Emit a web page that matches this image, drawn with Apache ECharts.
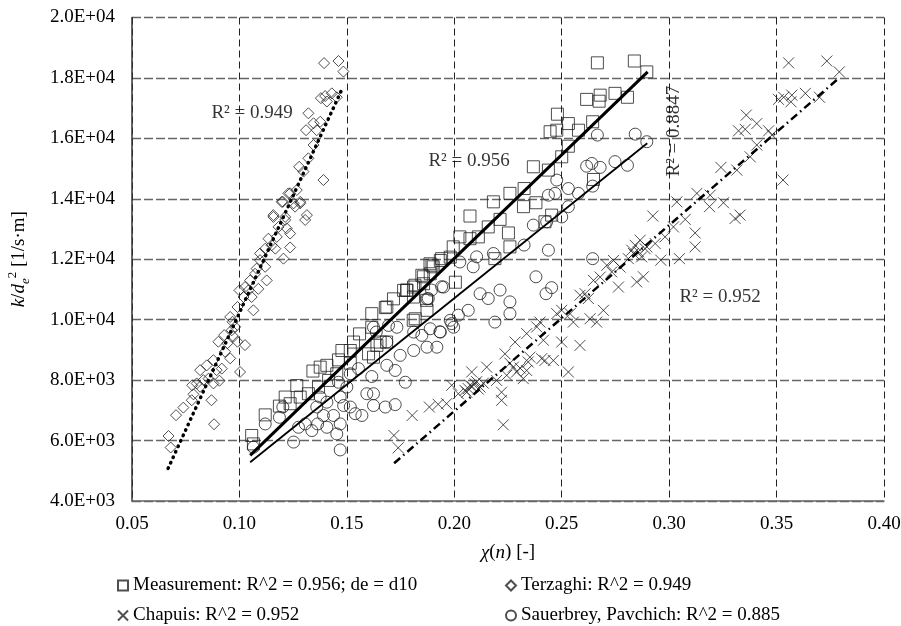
<!DOCTYPE html>
<html>
<head>
<meta charset="utf-8">
<script src="https://cdn.jsdelivr.net/npm/echarts@6/dist/echarts.min.js"></script>
<style>
  html, body { margin: 0; padding: 0; background: #fff; }
  #chart { width: 901px; height: 626px; }
</style>
</head>
<body>
<div id="chart"></div>
<script>
// values: [chi(n), k/de^2]
const measurement = [
  [0.1057,6168],[0.1065,5890],[0.112,6850],[0.1186,7140],[0.1236,7220],[0.1267,7820],[0.1283,7440],[0.1342,8300],
  [0.1376,8430],[0.1407,8490],[0.1461,8670],[0.1516,8560],[0.1477,8980],[0.1516,8980],[0.1531,9260],[0.1559,9530],
  [0.1601,8870],[0.1624,8760],[0.164,9150],[0.1616,10200],[0.1616,9750],[0.1655,9260],[0.1679,10400],[0.1717,10690],
  [0.178,10970],[0.181,10750],[0.1818,10030],[0.1873,10310],[0.1857,11190],[0.1896,11800],[0.1935,11960],[0.1981,12070],
  [0.2005,11240],[0.1888,11520],[0.1849,11470],[0.181,11080],[0.1764,10970],[0.1686,10420],[0.1213,7440],[0.1321,7550],
  [0.1368,7770],[0.1415,7990],[0.1453,8210],
  [0.2666,18500],[0.2838,18560],[0.2896,18200],[0.2616,17290],[0.2679,17430],[0.2674,17230],[0.2748,17490],[0.2806,17360],
  [0.248,16800],[0.2531,16490],[0.2578,16270],[0.2644,16550],[0.2446,16220],[0.2477,16270],[0.2531,15740],[0.25,15390],
  [0.2368,15060],[0.2438,14950],[0.2648,14640],[0.2259,14180],[0.2325,14340],[0.238,13870],[0.2322,13740],[0.2182,13900],
  [0.2073,13430],[0.2213,13320],[0.2158,13070],[0.2252,12870],[0.2422,13240],[0.2453,13460],[0.2026,12740],[0.2112,12740],
  [0.1995,12410],[0.2259,12410],[0.2189,12020],[0.1941,12020],[0.1902,11750],[0.1856,11420],[0.1817,11140],[0.1778,10980],
  [0.1871,10640],[0.1809,9980],[0.2073,12680],[0.1887,11850],[0.1685,9260]
];
const terzaghi = [
  [0.067,6150],[0.068,5770],[0.0705,6840],[0.0739,7090],[0.0778,7335],[0.0786,7530],[0.0817,7780],[0.078,7830],
  [0.0817,8330],[0.0848,8490],[0.0832,8000],[0.087,7335],[0.0882,6540],[0.0879,7890],[0.0907,7980],[0.0918,8380],
  [0.0879,8660],[0.0902,9270],[0.0929,9490],[0.0957,8720],[0.0957,10090],[0.0991,9270],[0.1003,8270],[0.1026,9160],
  [0.0991,10420],[0.098,9760],[0.0968,9930],[0.1,10970],[0.1026,11080],[0.105,11300],[0.1065,10310],[0.1057,10750],
  [0.1073,11520],[0.1088,11020],[0.1127,11300],[0.108,11690],[0.1096,11970],[0.112,12350],[0.115,12460],[0.1167,12350],
  [0.1205,12020],[0.1236,12390],[0.1135,12680],[0.1158,13400],[0.1197,13900],[0.122,13020],[0.1236,12850],[0.1259,13740],
  [0.1283,13850],[0.1306,13300],[0.1236,14180],[0.1267,14290],[0.1298,14900],
  [0.1394,18490],[0.1461,18560],[0.1484,18210],[0.1379,17330],[0.1399,17400],[0.143,17490],[0.1453,17360],[0.1407,17220],
  [0.1321,16830],[0.1345,16500],[0.1376,16550],[0.131,16270],[0.136,16270],[0.1345,15780],[0.1321,15340],[0.1278,15060],
  [0.1391,14620],[0.1228,14180],[0.1202,13900],[0.1252,13850],[0.1283,13900],[0.1158,13460],[0.1314,13460],[0.1213,13400],
  [0.0801,7890],[0.0856,8050],[0.0894,8330],[0.0933,8940],[0.0944,9220],[0.0972,9440],[0.0964,9650],[0.1019,10750],
  [0.1042,10970],[0.1096,12190],[0.112,11750],[0.1174,12740],[0.1182,13070],[0.1213,13300]
];
const chapuis = [
  [0.1719,6170],[0.1739,5760],[0.1804,6830],[0.1884,7110],[0.1925,7200],[0.1964,7220],[0.1988,7830],[0.2019,7550],
  [0.205,7660],[0.2073,7830],[0.2096,7880],[0.212,7770],[0.2081,8270],[0.2151,8430],[0.222,7330],[0.2228,6520],
  [0.2197,7990],[0.222,7600],[0.2244,8160],[0.2236,8870],[0.2275,8430],[0.229,8270],[0.2321,8050],[0.2337,8320],
  [0.2283,9260],[0.2337,9540],[0.2352,8760],[0.2399,9920],[0.2415,9320],[0.2384,9760],[0.2407,8710],[0.2422,8650],
  [0.2461,8650],[0.2477,10200],[0.25,9260],[0.25,10310],[0.2531,8270],[0.2539,10200],[0.2554,9920],[0.2585,9150],
  [0.2585,10810],[0.2609,10860],[0.2624,10700],[0.2632,10030],[0.2663,9920],[0.2694,10310],[0.2648,11300],[0.2679,11410],
  [0.271,11800],[0.2733,11580],[0.2741,11960],[0.2764,11080],[0.2772,11740],[0.281,12020],[0.2826,12300],[0.2842,12460],
  [0.2849,11250],[0.2834,12190],[0.2065,7720],[0.2081,7800],[0.2104,7950],[0.2112,7700],[0.2058,7600],[0.2135,7900],
  [0.2259,8560],[0.2306,8400],[0.2344,8600],[0.2857,12250],[0.2872,12080],[0.2888,12350],
  [0.3556,18500],[0.3734,18560],[0.3792,18200],[0.3509,17290],[0.3533,17360],[0.3571,17430],[0.3567,17210],[0.3634,17490],
  [0.37,17360],[0.3359,16770],[0.3323,16250],[0.3354,16300],[0.3408,16490],[0.3463,16250],[0.3478,16110],[0.3408,15780],
  [0.3377,15390],[0.353,14620],[0.3241,15040],[0.3315,14950],[0.3129,14180],[0.3036,13900],[0.3191,14120],[0.3188,13740],
  [0.3253,13870],[0.3307,13350],[0.333,13460],[0.3075,13320],[0.3121,12870],[0.3121,12410],[0.3048,12020],[0.2961,11970],
  [0.2924,13430],[0.2865,12630],[0.288,11420],[0.2935,12520],[0.2981,12740],[0.302,13070],[0.2896,12410]
];
const sauerbrey = [
  [0.1065,5780],[0.112,6550],[0.1186,6770],[0.1202,7110],[0.1252,5950],[0.1275,6440],[0.1306,6550],[0.1337,6330],
  [0.1364,6550],[0.1391,6830],[0.1407,6440],[0.1438,6830],[0.1469,5690],[0.1469,6550],[0.1453,6220],[0.1485,7160],
  [0.1516,7110],[0.1539,6890],[0.157,6830],[0.136,7110],[0.1407,7270],[0.1469,7440],[0.1376,7440],[0.15,7770],
  [0.1461,7930],[0.1516,8210],[0.1554,8380],[0.1593,7550],[0.1624,7550],[0.1624,7160],[0.1679,7110],[0.1725,7190],
  [0.1616,8120],[0.1686,8490],[0.1725,8320],[0.1772,7930],[0.1748,8820],[0.1811,8980],[0.1873,9090],[0.1919,9090],
  [0.1849,9480],[0.1888,9700],[0.1935,9590],[0.1811,9590],[0.1733,9750],[0.1686,9260],[0.1637,9590],[0.1624,9750],
  [0.1694,9810],[0.1873,10690],[0.195,11080],[0.1981,9980],[0.1997,9750],
  [0.2842,16140],[0.2896,15890],[0.2666,16110],[0.2616,15080],[0.264,15170],[0.2679,15040],[0.2748,15230],[0.2806,15110],
  [0.2477,14620],[0.2644,14420],[0.2531,14340],[0.2578,14180],[0.2438,14120],[0.2469,14180],[0.2531,13740],[0.25,13400],
  [0.243,13240],[0.2368,13130],[0.2325,12470],[0.2438,12300],[0.2644,12020],[0.238,11420],[0.2453,11060],[0.2427,10860],
  [0.2213,10980],[0.2259,10590],[0.2259,10200],[0.2189,9920],[0.2158,10700],[0.212,10860],[0.2182,12190],[0.2104,12080],
  [0.2088,11750],[0.2026,11910],[0.2065,10310],[0.2019,10150],[0.1933,9600],[0.1988,9870],[0.1941,11090],[0.1894,10980],
  [0.1879,10700]
];

// trend line end points
const measTrend = [[0.105, 5510], [0.290, 18200]];
const terzTrend = [[0.0668, 5080], [0.148, 17670]];
const chapTrend = [[0.172, 5250], [0.378, 17930]];
const sauerTrend = [[0.105, 5280], [0.2898, 15840]];

// R² annotations [x, y, text]
const r2Labels = [
  [0.1059, 16840, 'R² = 0.949'],
  [0.2069, 15250, 'R² = 0.956'],
  [0.3023, 16240, 'R² = 0.8847'],
  [0.3237, 10740, 'R² = 0.952']
];

const seriesNames = [
  'Measurement: R^2 = 0.956; de = d10',
  'Terzaghi: R^2 = 0.949',
  'Chapuis: R^2 = 0.952',
  'Sauerbrey, Pavchich: R^2 = 0.885'
];

const FONT = 'Liberation Serif';
const FS = 19;

function sci(v) {
  let e = Math.floor(Math.log10(Math.abs(v)));
  let m = (v / Math.pow(10, e)).toFixed(1);
  return m + 'E+' + (e < 10 ? '0' + e : e);
}

const hollow = {
  color: 'rgba(0,0,0,0)',
  borderColor: '#222',
  borderWidth: 1
};

// one legend block per entry, 2 x 2 layout
function legendAt(name, left, top) {
  return {
    data: [name],
    left: left, top: top,
    itemWidth: 10, itemHeight: 10,
    textStyle: { fontFamily: FONT, fontSize: FS, color: '#000' }
  };
}

let chart = echarts.init(document.getElementById('chart'));

let option = {
  animation: false,
  textStyle: { fontFamily: FONT, color: '#000' },
  grid: {
    left: 132, right: 17, top: 17.5, bottom: 125,
    outerBoundsMode: 'none'
  },
  legend: [
    legendAt(seriesNames[0], 112, 571),
    legendAt(seriesNames[1], 500, 571),
    legendAt(seriesNames[2], 112, 601),
    legendAt(seriesNames[3], 500, 601)
  ],
  xAxis: {
    type: 'value',
    min: 0.05, max: 0.40, interval: 0.05,
    name: '{i|χ}({i|n}) [-]',
    nameLocation: 'middle',
    nameGap: 42,
    nameTextStyle: {
      fontFamily: FONT, fontSize: FS, color: '#000',
      rich: { i: { fontFamily: FONT, fontSize: FS, fontStyle: 'italic', color: '#000' } }
    },
    axisLine: { onZero: false, lineStyle: { color: '#666', width: 1.5 } },
    axisTick: { show: false },
    axisLabel: {
      margin: 14, fontFamily: FONT, fontSize: FS, color: '#000',
      formatter: v => v.toFixed(2)
    },
    splitLine: { show: true, lineStyle: { color: '#222', width: 1, type: [7, 4] } }
  },
  yAxis: {
    type: 'value',
    min: 4000, max: 20000, interval: 2000,
    name: '{i|k}/{i|d}{sub|e}{sup|2} [1/s·m]',
    nameLocation: 'middle',
    nameGap: 100,
    nameTextStyle: {
      fontFamily: FONT, fontSize: FS, color: '#000', lineHeight: 26,
      rich: {
        i: { fontFamily: FONT, fontSize: FS, fontStyle: 'italic', color: '#000', lineHeight: 26 },
        sub: { fontFamily: FONT, fontSize: 13, fontStyle: 'italic', color: '#000', verticalAlign: 'bottom', lineHeight: 26 },
        sup: { fontFamily: FONT, fontSize: 13, color: '#000', verticalAlign: 'top', lineHeight: 26 }
      }
    },
    axisLine: { show: true, lineStyle: { color: '#333', width: 1.5 } },
    axisTick: { show: false },
    axisLabel: {
      margin: 17, fontFamily: FONT, fontSize: FS, color: '#000',
      formatter: v => sci(v)
    },
    splitLine: { show: true, lineStyle: { color: '#666', width: 1.3, type: [9, 3] } }
  },
  series: [
    {
      name: seriesNames[0], type: 'scatter', data: measurement,
      symbol: 'rect', symbolSize: 12, itemStyle: hollow, z: 3
    },
    {
      name: seriesNames[1], type: 'scatter', data: terzaghi,
      symbol: 'diamond', symbolSize: 11, itemStyle: hollow, z: 3
    },
    {
      name: seriesNames[2], type: 'scatter', data: chapuis,
      symbol: 'path://M0,0L10,10M0,10L10,0', symbolSize: 11, itemStyle: hollow, z: 3
    },
    {
      name: seriesNames[3], type: 'scatter', data: sauerbrey,
      symbol: 'circle', symbolSize: 12, itemStyle: hollow, z: 3
    },
    {
      type: 'line', data: measTrend, symbol: 'none', z: 5,
      lineStyle: { color: '#000', width: 3 }
    },
    {
      type: 'line', data: sauerTrend, symbol: 'none', z: 5,
      lineStyle: { color: '#000', width: 1.8 }
    },
    {
      type: 'line', data: terzTrend, symbol: 'none', z: 5,
      lineStyle: { color: '#000', width: 3.5, type: [0.5, 5.5], cap: 'round' }
    },
    {
      type: 'line', data: chapTrend, symbol: 'none', z: 5,
      lineStyle: { color: '#000', width: 2.5, type: [8, 4, 1.5, 4] }
    },
    {
      type: 'scatter', symbolSize: 1, z: 6,
      itemStyle: { color: 'rgba(0,0,0,0)' },
      data: r2Labels.map((d, i) => ({
        value: d,
        label: { rotate: i === 2 ? 90 : 0 }
      })),
      label: {
        show: true, position: 'inside',
        fontFamily: FONT, fontSize: FS, color: '#000',
        formatter: p => p.value[2]
      }
    }
  ]
};

chart.setOption(option);
</script>
</body>
</html>
